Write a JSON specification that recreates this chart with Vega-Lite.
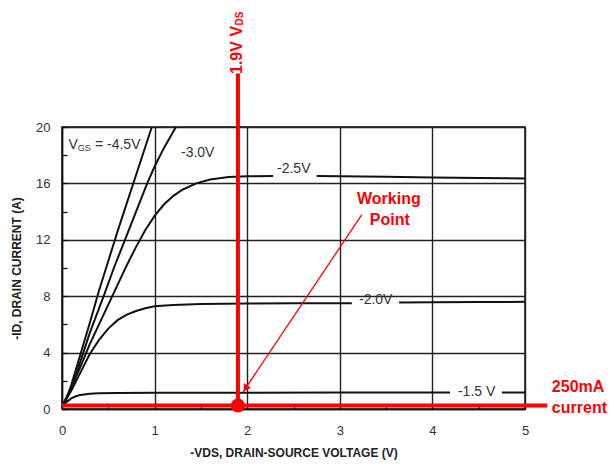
{
  "$schema": "https://vega.github.io/schema/vega-lite/v6.json",
  "width": 463,
  "height": 282,
  "autosize": {"type": "none"},
  "padding": {"left": 62, "top": 127, "right": 85, "bottom": 55},
  "background": "white",
  "config": {
    "font": "Liberation Sans",
    "view": {"stroke": "#111", "strokeWidth": 1.5},
    "axis": {
      "domainColor": "#111",
      "domainWidth": 1.5,
      "gridColor": "#222",
      "gridWidth": 1.4,
      "tickColor": "#111",
      "tickWidth": 1.3,
      "labelFont": "Liberation Sans",
      "labelFontSize": 13,
      "labelColor": "#333",
      "titleFont": "Liberation Sans",
      "titleFontSize": 12,
      "titleFontWeight": "bold",
      "titleColor": "#222"
    }
  },
  "encoding": {
    "x": {
      "field": "v",
      "type": "quantitative",
      "scale": {"domain": [0, 5], "nice": false, "zero": false},
      "axis": {
        "title": "-VDS, DRAIN-SOURCE VOLTAGE (V)",
        "values": [0, 0.5, 1, 1.5, 2, 2.5, 3, 3.5, 4, 4.5, 5],
        "format": "~g",
        "labelExpr": "datum.value % 1 === 0 ? datum.label : ''",
        "labelFlush": false,
        "labelOverlap": false,
        "gridOpacity": {"condition": {"test": "datum.value % 1 === 0", "value": 1}, "value": 0},
        "tickSize": -5,
        "labelPadding": 20,
        "titlePadding": 10
      }
    },
    "y": {
      "field": "i",
      "type": "quantitative",
      "scale": {"domain": [0, 20], "nice": false, "zero": false},
      "axis": {
        "title": "-ID, DRAIN CURRENT (A)",
        "values": [0, 2, 4, 6, 8, 10, 12, 14, 16, 18, 20],
        "format": "~g",
        "labelExpr": "datum.value % 4 === 0 ? datum.label : ''",
        "labelOverlap": false,
        "gridOpacity": {"condition": {"test": "datum.value % 4 === 0", "value": 1}, "value": 0},
        "tickSize": -5,
        "labelPadding": 17,
        "titlePadding": 12
      }
    }
  },
  "layer": [
    {
      "data": {"values": [
        {"seg": "-4.5", "v": 0, "i": 0.2}, {"seg": "-4.5", "v": 0.05, "i": 0.8}, {"seg": "-4.5", "v": 0.1, "i": 1.7}, {"seg": "-4.5", "v": 0.15, "i": 2.8}, {"seg": "-4.5", "v": 0.2, "i": 3.9}, {"seg": "-4.5", "v": 0.3, "i": 6.1}, {"seg": "-4.5", "v": 0.4, "i": 8.4}, {"seg": "-4.5", "v": 0.5, "i": 10.5}, {"seg": "-4.5", "v": 0.6, "i": 12.6}, {"seg": "-4.5", "v": 0.7, "i": 14.6}, {"seg": "-4.5", "v": 0.8, "i": 16.6}, {"seg": "-4.5", "v": 0.9, "i": 18.6}, {"seg": "-4.5", "v": 0.97, "i": 20},
        {"seg": "-3.0", "v": 0, "i": 0.2}, {"seg": "-3.0", "v": 0.05, "i": 0.75}, {"seg": "-3.0", "v": 0.1, "i": 1.5}, {"seg": "-3.0", "v": 0.2, "i": 3.4}, {"seg": "-3.0", "v": 0.3, "i": 5.4}, {"seg": "-3.0", "v": 0.45, "i": 8}, {"seg": "-3.0", "v": 0.56, "i": 10}, {"seg": "-3.0", "v": 0.68, "i": 12}, {"seg": "-3.0", "v": 0.8, "i": 14}, {"seg": "-3.0", "v": 0.92, "i": 16}, {"seg": "-3.0", "v": 1.0, "i": 17.2}, {"seg": "-3.0", "v": 1.1, "i": 18.5}, {"seg": "-3.0", "v": 1.23, "i": 20},
        {"seg": "-2.5a", "v": 0, "i": 0.2}, {"seg": "-2.5a", "v": 0.1, "i": 1.5}, {"seg": "-2.5a", "v": 0.2, "i": 3.0}, {"seg": "-2.5a", "v": 0.3, "i": 4.6}, {"seg": "-2.5a", "v": 0.4, "i": 6.0}, {"seg": "-2.5a", "v": 0.5, "i": 7.4}, {"seg": "-2.5a", "v": 0.6, "i": 8.8}, {"seg": "-2.5a", "v": 0.7, "i": 10.2}, {"seg": "-2.5a", "v": 0.8, "i": 11.5}, {"seg": "-2.5a", "v": 0.9, "i": 12.7}, {"seg": "-2.5a", "v": 1.0, "i": 13.7}, {"seg": "-2.5a", "v": 1.1, "i": 14.5}, {"seg": "-2.5a", "v": 1.2, "i": 15.1}, {"seg": "-2.5a", "v": 1.3, "i": 15.55}, {"seg": "-2.5a", "v": 1.45, "i": 16.0}, {"seg": "-2.5a", "v": 1.6, "i": 16.28}, {"seg": "-2.5a", "v": 1.8, "i": 16.45}, {"seg": "-2.5a", "v": 2.0, "i": 16.5}, {"seg": "-2.5a", "v": 2.28, "i": 16.52},
        {"seg": "-2.5b", "v": 2.75, "i": 16.52}, {"seg": "-2.5b", "v": 3.0, "i": 16.5}, {"seg": "-2.5b", "v": 3.5, "i": 16.47}, {"seg": "-2.5b", "v": 4.0, "i": 16.42}, {"seg": "-2.5b", "v": 4.5, "i": 16.38}, {"seg": "-2.5b", "v": 5.0, "i": 16.35},
        {"seg": "-2.0a", "v": 0, "i": 0.2}, {"seg": "-2.0a", "v": 0.1, "i": 1.3}, {"seg": "-2.0a", "v": 0.2, "i": 2.6}, {"seg": "-2.0a", "v": 0.3, "i": 3.9}, {"seg": "-2.0a", "v": 0.4, "i": 4.9}, {"seg": "-2.0a", "v": 0.5, "i": 5.7}, {"seg": "-2.0a", "v": 0.6, "i": 6.3}, {"seg": "-2.0a", "v": 0.7, "i": 6.7}, {"seg": "-2.0a", "v": 0.8, "i": 6.95}, {"seg": "-2.0a", "v": 0.9, "i": 7.15}, {"seg": "-2.0a", "v": 1.0, "i": 7.28}, {"seg": "-2.0a", "v": 1.2, "i": 7.38}, {"seg": "-2.0a", "v": 1.5, "i": 7.45}, {"seg": "-2.0a", "v": 2.0, "i": 7.48}, {"seg": "-2.0a", "v": 2.5, "i": 7.5}, {"seg": "-2.0a", "v": 3.13, "i": 7.5},
        {"seg": "-2.0b", "v": 3.64, "i": 7.55}, {"seg": "-2.0b", "v": 4.0, "i": 7.57}, {"seg": "-2.0b", "v": 4.5, "i": 7.58}, {"seg": "-2.0b", "v": 5.0, "i": 7.6},
        {"seg": "-1.5a", "v": 0, "i": 0.2}, {"seg": "-1.5a", "v": 0.05, "i": 0.5}, {"seg": "-1.5a", "v": 0.1, "i": 0.75}, {"seg": "-1.5a", "v": 0.15, "i": 0.9}, {"seg": "-1.5a", "v": 0.2, "i": 1.0}, {"seg": "-1.5a", "v": 0.3, "i": 1.08}, {"seg": "-1.5a", "v": 0.4, "i": 1.12}, {"seg": "-1.5a", "v": 0.6, "i": 1.14}, {"seg": "-1.5a", "v": 1.0, "i": 1.15}, {"seg": "-1.5a", "v": 2.0, "i": 1.16}, {"seg": "-1.5a", "v": 3.0, "i": 1.17}, {"seg": "-1.5a", "v": 4.19, "i": 1.17},
        {"seg": "-1.5b", "v": 4.75, "i": 1.17}, {"seg": "-1.5b", "v": 5.0, "i": 1.17}
      ]},
      "mark": {"type": "line", "color": "#111", "strokeWidth": 2, "clip": true},
      "encoding": {"detail": {"field": "seg"}}
    },
    {
      "data": {"values": [
        {"text": "V", "v": 0.07, "i": 18.72},
        {"text": "= -4.5V", "v": 0.356, "i": 18.72},
        {"text": "-3.0V", "v": 1.285, "i": 18.13},
        {"text": "-2.5V", "v": 2.322, "i": 17.05},
        {"text": "-2.0V", "v": 3.207, "i": 7.73},
        {"text": "-1.5 V", "v": 4.276, "i": 1.2}
      ]},
      "mark": {"type": "text", "align": "left", "baseline": "middle", "fontSize": 14, "color": "#333", "clip": false},
      "encoding": {"text": {"field": "text"}}
    },
    {
      "data": {"values": [{"text": "GS", "v": 0.17, "i": 18.72}]},
      "mark": {"type": "text", "align": "left", "baseline": "middle", "fontSize": 9, "dy": 3, "color": "#333", "clip": false},
      "encoding": {"text": {"field": "text"}}
    },
    {
      "data": {"values": [
        {"v": 1.9, "i": 0, "v2": 1.9, "i2": 23.8},
        {"v": 0, "i": 0.25, "v2": 5.24, "i2": 0.25}
      ]},
      "mark": {"type": "rule", "color": "#f00", "strokeWidth": 4, "clip": false},
      "encoding": {"x2": {"field": "v2"}, "y2": {"field": "i2"}}
    },
    {
      "data": {"values": [{"v": 3.236, "i": 13.76, "v2": 1.958, "i2": 1.23}]},
      "mark": {"type": "rule", "color": "#f00", "strokeWidth": 1.3, "clip": false},
      "encoding": {"x2": {"field": "v2"}, "y2": {"field": "i2"}}
    },
    {
      "data": {"values": [{"v": 1.982, "i": 1.46}]},
      "mark": {"type": "point", "shape": "triangle-up", "filled": true, "color": "#f00", "opacity": 1, "size": 70, "angle": 213.6, "clip": false}
    },
    {
      "data": {"values": [{"v": 1.9, "i": 0.25}]},
      "mark": {"type": "point", "shape": "circle", "filled": true, "color": "#f00", "opacity": 1, "size": 200, "clip": false}
    },
    {
      "data": {"values": [
        {"text": "250mA", "v": 5.29, "i": 1.58},
        {"text": "current", "v": 5.29, "i": 0.07}
      ]},
      "mark": {"type": "text", "align": "left", "baseline": "middle", "fontSize": 16, "fontWeight": "bold", "color": "#f00", "clip": false},
      "encoding": {"text": {"field": "text"}}
    },
    {
      "data": {"values": [
        {"text": "Working", "v": 3.53, "i": 14.87},
        {"text": "Point", "v": 3.54, "i": 13.4}
      ]},
      "mark": {"type": "text", "align": "center", "baseline": "middle", "fontSize": 16, "fontWeight": "bold", "color": "#f00", "clip": false},
      "encoding": {"text": {"field": "text"}}
    },
    {
      "data": {"values": [{"text": "1.9V V", "v": 1.887, "i": 23.76}]},
      "mark": {"type": "text", "align": "left", "baseline": "middle", "angle": 270, "fontSize": 16, "fontWeight": "bold", "color": "#f00", "clip": false},
      "encoding": {"text": {"field": "text"}}
    },
    {
      "data": {"values": [{"text": "DS", "v": 1.887, "i": 27.2}]},
      "mark": {"type": "text", "align": "left", "baseline": "middle", "angle": 270, "dy": 3, "fontSize": 10, "fontWeight": "bold", "color": "#f00", "clip": false},
      "encoding": {"text": {"field": "text"}}
    }
  ]
}
